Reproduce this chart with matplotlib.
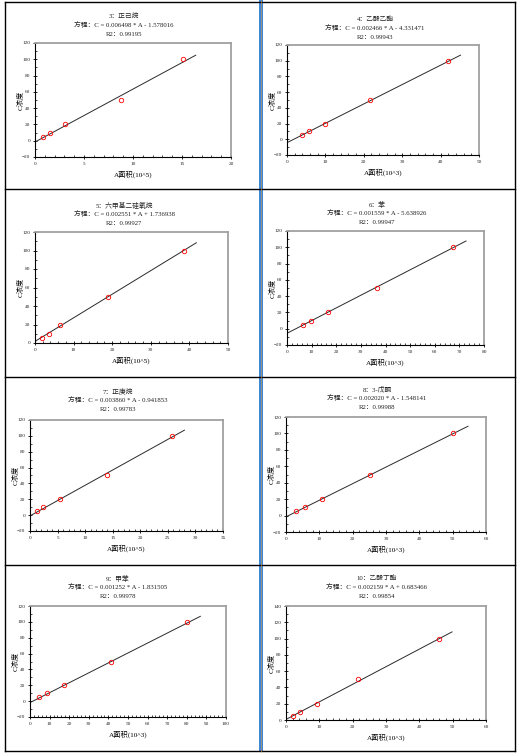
import matplotlib
matplotlib.use("Agg")
import matplotlib.pyplot as plt
from matplotlib.ticker import MultipleLocator, AutoMinorLocator
import numpy as np

plt.rcParams['font.family'] = ['Liberation Serif', 'Noto Sans CJK SC', 'DejaVu Sans']

# calibration data, one entry per compound
titles = ["3：正己烷", "4：乙酸乙酯", "5：六甲基二硅氧烷", "6：苯",
          "7：正庚烷", "8：3-戊酮", "9：甲苯", "10：乙酸丁酯"]
slopes = [0.006498, 0.002466, 0.002551, 0.001559, 0.003860, 0.002020, 0.001252, 0.002159]
intercepts = [-1.578016, -4.331471, 1.736938, -5.638926, -0.941853, -1.548141, -1.831505, 0.683466]
r2_values = ["0.99195", "0.99943", "0.99927", "0.99947", "0.99783", "0.99988", "0.99978", "0.99854"]
conc = [5, 10, 20, 50, 100]
areas = [
    [0.8, 1.55, 3.1, 8.8, 15.1],
    [3.9, 5.7, 10.0, 21.5, 41.9],
    [1.7, 3.5, 6.5, 19.0, 38.5],
    [6.6, 9.6, 16.5, 36.5, 67.3],
    [1.3, 2.4, 5.4, 13.9, 25.8],
    [3.0, 5.6, 10.9, 25.3, 50.2],
    [4.8, 8.8, 17.5, 41.4, 80.1],
    [2.2, 4.3, 9.4, 21.5, 46.0],
]
line_end = [16.4, 45.2, 41.8, 72.7, 28.0, 54.6, 86.9, 49.8]
x_max = [20, 50, 50, 80, 35, 60, 100, 60]
x_step = [5, 10, 10, 10, 5, 10, 10, 10]
y_min = [-20, -20, 0, -20, -20, -20, -20, 0]
y_max = [120, 120, 120, 120, 120, 120, 120, 140]
x_units = ["10^5", "10^3", "10^5", "10^3", "10^5", "10^3", "10^3", "10^3"]

W, H = 520, 756
fig = plt.figure(figsize=(W / 100, H / 100), dpi=100)

# axes boxes in pixels: left, top, right, bottom
boxes = [
    (35, 43, 231, 157), (287, 45, 479, 155),
    (35, 232, 228, 343), (287, 231, 484, 345),
    (30, 420, 223, 531), (286, 417, 486, 532),
    (30, 606, 226, 717), (286, 606, 486, 720),
]
# title anchor (center x, first line y) in pixels
title_pos = [(124, 16), (375, 19), (124, 205), (377, 204),
             (118, 391), (377, 389), (118, 578), (377, 578)]

for i in range(8):
    l, t, r, b = boxes[i]
    ax = fig.add_axes([l / W, 1 - b / H, (r - l) / W, (b - t) / H])
    k = slopes[i] * 1000
    xs = np.array([0, line_end[i]])
    ax.plot(xs, k * xs + intercepts[i], color='#2a2a2a', lw=0.7)
    ax.plot(areas[i], conc, 'o', mfc='none', mec='red', ms=3.2, mew=0.6)

    ax.set_xlim(0, x_max[i])
    ax.set_ylim(y_min[i], y_max[i])
    ax.xaxis.set_major_locator(MultipleLocator(x_step[i]))
    ax.xaxis.set_minor_locator(AutoMinorLocator(5))
    ax.yaxis.set_major_locator(MultipleLocator(20))
    ax.yaxis.set_minor_locator(AutoMinorLocator(2))
    ax.tick_params(which='major', direction='inout', length=3, width=0.6,
                   labelsize=3.8, pad=2, labelcolor='#222222')
    ax.tick_params(which='minor', direction='in', length=1.5, width=0.5)
    for s in ('top', 'right'):
        ax.spines[s].set_color('#a0a0a0')
        ax.spines[s].set_linewidth(1.3)
    for s in ('left', 'bottom'):
        ax.spines[s].set_color('black')
        ax.spines[s].set_linewidth(0.8)

    ax.set_xlabel("A面积(%s)" % x_units[i], fontsize=5.2)
    ax.xaxis.set_label_coords(0.5, -17 / (b - t))
    ax.xaxis.label.set_va('center')
    ax.set_ylabel("C浓度", fontsize=5.2)
    ax.yaxis.set_label_coords(-15 / (r - l), 0.5)
    ax.yaxis.label.set_va('center')

    cx, cy = title_pos[i]
    sign = '-' if intercepts[i] < 0 else '+'
    lines = [titles[i],
             "方程：C = %.6f * A %s %.6f" % (slopes[i], sign, abs(intercepts[i])),
             "R2：%s" % r2_values[i]]
    for j, txt in enumerate(lines):
        fig.text(cx / W, 1 - (cy + 9 * j) / H, txt, fontsize=4.9,
                 ha='center', va='center', color='#222222')

# page frame and panel dividers
for y in (1.5, 189, 377, 565, 751):
    fig.add_artist(plt.Line2D([5 / W, 515 / W], [1 - y / H] * 2, color='black', lw=1.0))
for x in (5, 515):
    fig.add_artist(plt.Line2D([x / W] * 2, [1 - 1.5 / H, 1 - 751 / H], color='black', lw=1.0))
fig.add_artist(plt.Rectangle((259 / W, 1 - 752 / H), 4 / W, 752 / H,
                             color='#3d85d6', lw=0))
fig.add_artist(plt.Line2D([260.8 / W] * 2, [1, 1 - 752 / H], color='#e39b3a', lw=0.4))

fig.savefig("out.png", dpi=100)
